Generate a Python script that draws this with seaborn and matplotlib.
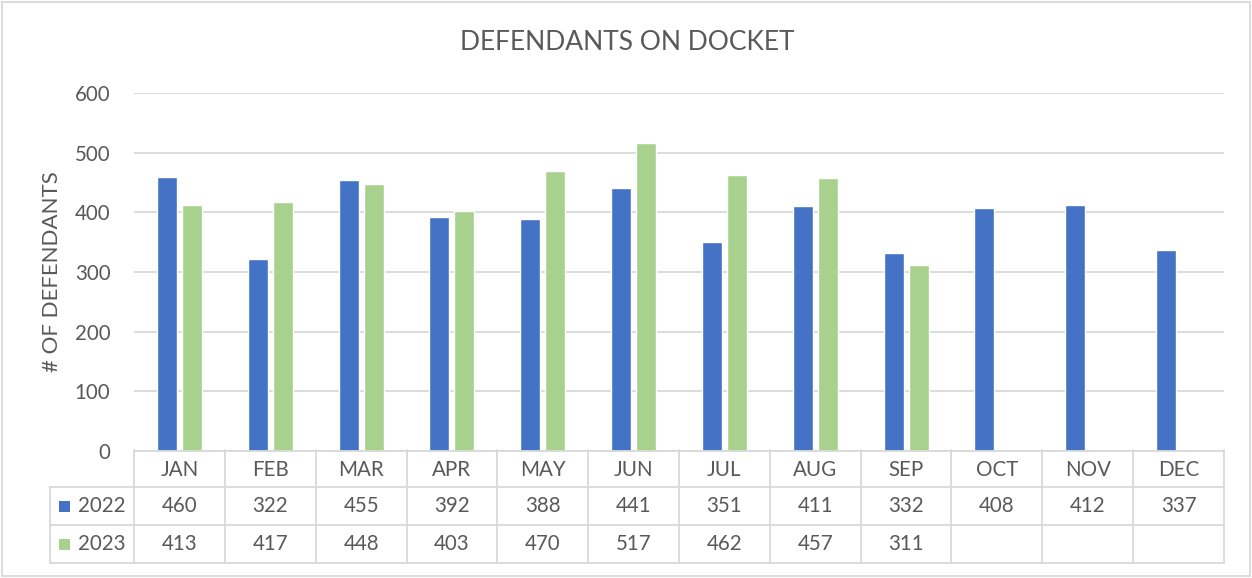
import matplotlib
matplotlib.use("Agg")
import matplotlib.pyplot as plt
import matplotlib.transforms as mtransforms
from matplotlib.patches import Rectangle
from matplotlib.lines import Line2D
import seaborn as sns
import pandas as pd
import numpy as np

months = ["JAN", "FEB", "MAR", "APR", "MAY", "JUN", "JUL", "AUG", "SEP", "OCT", "NOV", "DEC"]
y2022 = [460, 322, 455, 392, 388, 441, 351, 411, 332, 408, 412, 337]
y2023 = [413, 417, 448, 403, 470, 517, 462, 457, 311, None, None, None]
series = ["2022", "2023"]
colors = ["#4472C4", "#A9D18E"]
yticks = [0, 100, 200, 300, 400, 500, 600]

sns.set_theme(style="white")
plt.rcParams["font.family"] = ["Lato", "DejaVu Sans"]
TXT = "#595959"
GRID = "#D9D9D9"
FS = 14.8

W, H = 1252, 578
fig = plt.figure(figsize=(W / 100, H / 100), dpi=100)
ax = fig.add_axes([134 / W, 1 - 451 / H, (1224 - 134) / W, (451 - 93) / H])

rows = []
for m, a, b in zip(months, y2022, y2023):
    rows.append({"month": m, "year": "2022", "val": a})
    rows.append({"month": m, "year": "2023", "val": np.nan if b is None else b})
df = pd.DataFrame(rows)

sns.barplot(data=df, x="month", y="val", hue="year", order=months, hue_order=series,
            palette=colors, width=0.55, gap=0.2, saturation=1, ax=ax, legend=False,
            errorbar=None)

ax.set_xlim(-0.5, 11.5)
ax.set_ylim(0, 600)
ax.set_yticks(yticks)
ax.set_yticklabels([str(t) for t in yticks], color=TXT, fontsize=FS)
ax.tick_params(axis="y", length=0, pad=17)
ax.set_xticks([])
ax.set_xlabel("")
ax.set_ylabel("# OF DEFENDANTS", color=TXT, fontsize=16, labelpad=9)
ax.yaxis.grid(True, color=GRID, linewidth=1.3)
ax.set_axisbelow(True)
for s in ["left", "right", "top"]:
    ax.spines[s].set_visible(False)
ax.spines["bottom"].set_color(GRID)
ax.spines["bottom"].set_linewidth(1.3)

fig.text(627 / W, 1 - 42 / H, "DEFENDANTS ON DOCKET", ha="center", va="center",
         color=TXT, fontsize=19)

# data table
def fy(py):
    return 1 - py / H

bt = mtransforms.blended_transform_factory(ax.transData, fig.transFigure)
row_edges = [450, 487, 525, 563]
lw = 1.3
for py in row_edges[1:]:
    fig.add_artist(Line2D([50 / W, 1224 / W], [fy(py), fy(py)], transform=fig.transFigure,
                          color=GRID, lw=lw))
for i in range(13):
    xd = i - 0.5
    fig.add_artist(Line2D([xd, xd], [fy(450), fy(563)], transform=bt, color=GRID, lw=lw))
fig.add_artist(Line2D([50 / W, 50 / W], [fy(487), fy(563)], transform=fig.transFigure,
                      color=GRID, lw=lw))

for i, m in enumerate(months):
    fig.text(i, fy((450 + 487) / 2 + 1), m, transform=bt, ha="center", va="center",
             color=TXT, fontsize=FS)
for r, (vals, name, col) in enumerate(zip([y2022, y2023], series, colors)):
    yc = fy((row_edges[r + 1] + row_edges[r + 2]) / 2)
    for i, v in enumerate(vals):
        if v is not None:
            fig.text(i, yc, str(v), transform=bt, ha="center", va="center",
                     color=TXT, fontsize=FS)
    fig.add_artist(Rectangle((59 / W, yc - 5.5 / H), 11 / W, 11 / H,
                             transform=fig.transFigure, color=col, lw=0))
    fig.text(78 / W, yc, name, ha="left", va="center", color=TXT, fontsize=FS)

fig.add_artist(Rectangle((1.5 / W, 2 / H), (W - 4) / W, (H - 4) / H, transform=fig.transFigure,
                         fill=False, edgecolor=GRID, lw=1.3))

fig.savefig("out.png", dpi=100)
